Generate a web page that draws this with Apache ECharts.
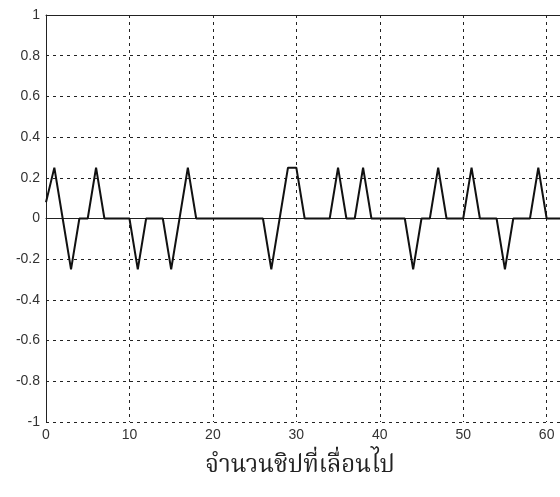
<!DOCTYPE html>
<html>
<head>
<meta charset="utf-8">
<script src="https://cdn.jsdelivr.net/npm/echarts@6/dist/echarts.min.js"></script>
<style>html,body{margin:0;padding:0;background:#fff}#c{width:560px;height:497px}</style>
</head>
<body>
<div id="c"></div>
<script>
// chip shift (x) and correlation value (y)
var shifts = [0,1,2,3,4,5,6,7,8,9,10,11,12,13,14,15,16,17,18,19,20,21,22,23,24,25,26,27,28,29,30,31,32,33,34,35,36,37,38,39,40,41,42,43,44,45,46,47,48,49,50,51,52,53,54,55,56,57,58,59,60,61,62];
var values = [0.08,0.25,0,-0.25,0,0,0.25,0,0,0,0,-0.25,0,0,0,-0.25,0,0.25,0,0,0,0,0,0,0,0,0,-0.25,0,0.25,0.25,0,0,0,0,0.25,0,0,0.25,0,0,0,0,0,-0.25,0,0,0.25,0,0,0,0.25,0,0,0,-0.25,0,0,0,0.25,0,0,0];
var yTicks = [-1,-0.8,-0.6,-0.4,-0.2,0,0.2,0.4,0.6,0.8,1];
var xTitle = 'จำนวนชิปที่เลื่อนไป';

var pts = shifts.map(function(x,i){return [x, values[i]];});
var chart = echarts.init(document.getElementById('c'), null, {renderer:'canvas'});
var dashStyle = {color:'#222', type:[3,4], width:1};
var lblFont = 'Liberation Sans, Arial, sans-serif';
chart.setOption({
  animation:false,
  backgroundColor:'#fff',
  grid:{left:46, top:15, right:0, bottom:75, show:false, containLabel:false},
  xAxis:[{type:'value', min:0, max:61.6, interval:10,
    axisLine:{show:true, lineStyle:{color:'#222', width:1}},
    axisTick:{show:false},
    splitLine:{show:true, lineStyle:dashStyle},
    axisLabel:{color:'#333', fontSize:14, fontFamily:lblFont, margin:6, showMaxLabel:false}
  },{type:'value', position:'top', min:0, max:61.6, interval:10,
    axisLine:{show:true, lineStyle:{color:'#222', width:1}},
    axisTick:{show:false}, axisLabel:{show:false}, splitLine:{show:false}
  }],
  yAxis:{type:'value', min:-1, max:1, interval:0.2,
    axisLine:{show:true, lineStyle:{color:'#222', width:1}},
    axisTick:{show:false},
    splitLine:{show:true, lineStyle:dashStyle},
    axisLabel:{color:'#333', fontSize:14, fontFamily:lblFont, margin:6,
      formatter:function(v){ var r=Math.round(v*10)/10; return (r===0?'0':String(r)); }}
  },
  graphic:[{type:'text', x:300, y:468, style:{text:xTitle, fill:'#222', fontSize:24,
    fontFamily:'Noto Serif Thai, Noto Sans Thai, Norasi, Loma, Garuda, serif', textAlign:'center', textVerticalAlign:'middle'}}],
  series:[{type:'line', xAxisIndex:0, data:pts, showSymbol:false, symbol:'none',
    lineStyle:{color:'#111', width:2}, z:5}]
});
</script>
</body>
</html>
